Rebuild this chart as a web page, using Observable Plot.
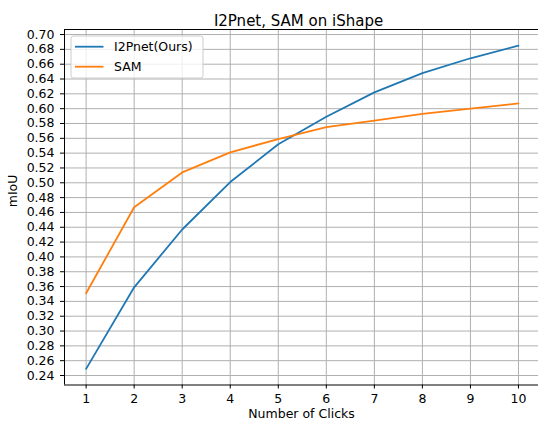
<!DOCTYPE html>
<html><head><meta charset="utf-8">
<script src="https://cdn.jsdelivr.net/npm/d3@7"></script>
<script src="https://cdn.jsdelivr.net/npm/@observablehq/plot@0.6"></script>
<style>html,body{margin:0;padding:0;background:#fff} svg{display:block}</style>
</head><body><div id="chart"></div>
<script>
const clicks = [1, 2, 3, 4, 5, 6, 7, 8, 9, 10];
const i2pnet = [0.249, 0.359, 0.437, 0.501, 0.552, 0.589, 0.622, 0.648, 0.668, 0.685];
const sam = [0.351, 0.467, 0.514, 0.541, 0.559, 0.575, 0.584, 0.593, 0.600, 0.607];
const seriesNames = ["I2Pnet(Ours)", "SAM"];
const seriesColors = ["#1f77b4", "#ff7f0e"];
const xTicks = [1, 2, 3, 4, 5, 6, 7, 8, 9, 10];
const yTicks = [0.24, 0.26, 0.28, 0.30, 0.32, 0.34, 0.36, 0.38, 0.40, 0.42, 0.44, 0.46, 0.48, 0.50, 0.52, 0.54, 0.56, 0.58, 0.60, 0.62, 0.64, 0.66, 0.68, 0.70];
const xDomain = [0.55, 10.45];
const yDomain = [0.2272, 0.7068];
const titleText = "I2Pnet, SAM on iShape";
const xLabel = "Number of Clicks";
const yLabel = "mIoU";

const data = [];
seriesNames.forEach((s, k) => {
  const vals = k === 0 ? i2pnet : sam;
  clicks.forEach((c, i) => data.push({x: c, y: vals[i], s}));
});

const font = "'DejaVu Sans', sans-serif";
const svg = Plot.plot({
  width: 538, height: 423,
  marginTop: 29, marginBottom: 38.5, marginLeft: 64, marginRight: 0,
  style: {fontFamily: font, fontSize: "12px", color: "#000", background: "#fff", overflow: "visible"},
  x: {domain: xDomain, range: [64, 539.6]},
  y: {domain: yDomain},
  color: {domain: seriesNames, range: seriesColors},
  marks: [
    Plot.gridX(xTicks, {stroke: "#b0b0b0", strokeOpacity: 1, strokeWidth: 1}),
    Plot.gridY(yTicks, {stroke: "#b0b0b0", strokeOpacity: 1, strokeWidth: 1}),
    Plot.line(data, {x: "x", y: "y", z: "s", stroke: "s", strokeWidth: 1.8}),
    Plot.ruleX([xDomain[0]], {stroke: "#000", strokeWidth: 1}),
    Plot.ruleY(yDomain, {stroke: "#000", strokeWidth: 1}),
    Plot.axisX(xTicks, {tickSize: 4, tickPadding: 5.5, fontSize: 12.5, label: null, tickFormat: d => String(d)}),
    Plot.axisY(yTicks, {tickSize: 4, tickPadding: 6, fontSize: 12.5, label: null, tickFormat: d => d.toFixed(2)}),
    Plot.text([xLabel], {frameAnchor: "bottom", dy: 33, fontSize: 12.5, text: d => d}),
    Plot.text([yLabel], {frameAnchor: "left", dx: -52, rotate: -90, fontSize: 12.5, text: d => d}),
    Plot.text([titleText], {frameAnchor: "top", dy: -14, dx: -3, fontSize: 15, text: d => d})
  ]
});

// legend
const lg = d3.select(svg).append("g").attr("font-family", font).attr("font-size", 12.5).attr("text-anchor", "start");
lg.append("rect").attr("x", 71).attr("y", 36).attr("width", 132).attr("height", 42)
  .attr("rx", 2.5).attr("fill", "#fff").attr("fill-opacity", 0.8).attr("stroke", "#cccccc").attr("stroke-width", 1);
seriesNames.forEach((name, i) => {
  const y = 46.7 + i * 20;
  lg.append("line").attr("x1", 75).attr("x2", 103.5).attr("y1", y).attr("y2", y)
    .attr("stroke", seriesColors[i]).attr("stroke-width", 1.8);
  lg.append("text").attr("x", 114).attr("y", y).attr("dy", "0.35em").attr("fill", "#000")
    .attr("text-anchor", "start").text(name);
});

document.getElementById("chart").appendChild(svg);
</script>
</body></html>
